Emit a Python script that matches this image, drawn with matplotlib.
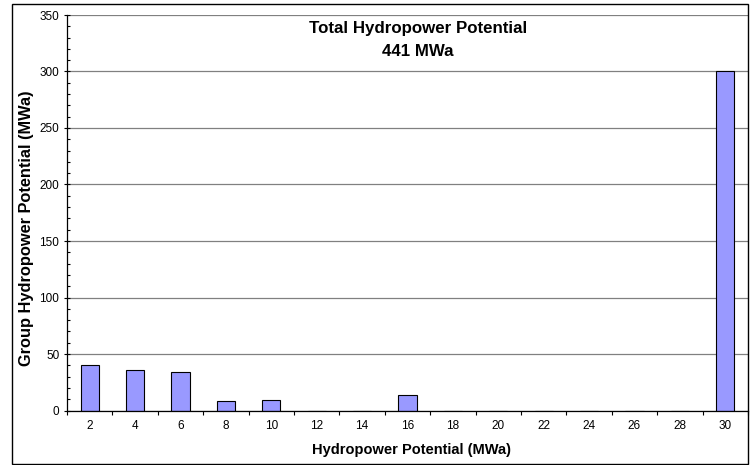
import matplotlib
matplotlib.use("Agg")
import matplotlib.pyplot as plt
from matplotlib.patches import Rectangle
from matplotlib.ticker import MultipleLocator, FixedLocator, NullFormatter
import numpy as np

categories = ["2", "4", "6", "8", "10", "12", "14", "16", "18", "20", "22", "24", "26", "28", "30"]
values = [40, 36, 34, 8, 9, 0, 0, 14, 0, 0, 0, 0, 0, 0, 300]
title_lines = ["Total Hydropower Potential", "441 MWa"]
xlabel = "Hydropower Potential (MWa)"
ylabel = "Group Hydropower Potential (MWa)"

plt.rcParams['font.family'] = ['Liberation Sans', 'DejaVu Sans']

W, H = 750, 465
fig = plt.figure(figsize=(W / 100, H / 100), dpi=100)
ax = fig.add_axes([67/W, (H-410.5)/H, (748-67)/W, (410.5-15)/H])

x = np.arange(len(categories))
ax.bar(x, values, width=0.4, color="#9999FF", edgecolor="black", linewidth=0.8, zorder=3)

ax.set_xlim(-0.5, len(categories) - 0.5)
ax.set_ylim(0, 350)
ax.yaxis.set_major_locator(MultipleLocator(50))
ax.yaxis.set_minor_locator(MultipleLocator(10))
ax.grid(axis="y", which="major", color="#808080", linewidth=0.9, zorder=0)

ax.xaxis.set_major_locator(FixedLocator(np.arange(-0.5, len(categories), 1.0)))
ax.xaxis.set_major_formatter(NullFormatter())
ax.set_xticks(x, categories, minor=True)
ax.tick_params(axis="x", which="major", direction="out", length=3, width=0.8)
ax.tick_params(axis="x", which="minor", length=0, labelsize=8.5, pad=7)
ax.tick_params(axis="y", which="major", direction="inout", length=5, width=0.8, labelsize=8.5, pad=3)
ax.tick_params(axis="y", which="minor", direction="in", length=2.5, width=0.8)

for s in ["top", "right"]:
    ax.spines[s].set_visible(False)
for s in ["left", "bottom"]:
    ax.spines[s].set_linewidth(0.9)
    ax.spines[s].set_zorder(4)

fig.text(411.7/W, 1 - 450/H, xlabel, ha="center", va="center", fontsize=10.5, fontweight="bold")
fig.text(27/W, 1 - 228/H, ylabel, ha="center", va="center", rotation=90, fontsize=11.8, fontweight="bold")

fig.text(418/W, 1 - 29/H, title_lines[0], ha="center", va="center", fontsize=12.2, fontweight="bold")
fig.text(418/W, 1 - 52/H, title_lines[1], ha="center", va="center", fontsize=12.2, fontweight="bold")

fig.patches.append(Rectangle((12/W, 1/H), 736/W, 460/H, transform=fig.transFigure,
                             fill=False, edgecolor="black", linewidth=1.0))

fig.savefig("out.png", dpi=100)
